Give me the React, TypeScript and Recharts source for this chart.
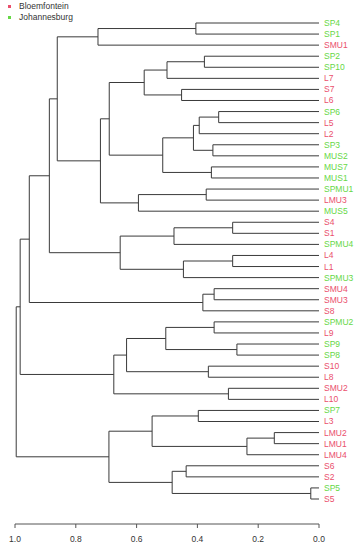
import React from 'react';
import { LineChart, Line, XAxis, YAxis } from 'recharts';

// Leaves, top to bottom
const leaves: string[] = [
  'SP4', 'SP1', 'SMU1', 'SP2', 'SP10', 'L7', 'S7', 'L6', 'SP6', 'L5', 'L2',
  'SP3', 'MUS2', 'MUS7', 'MUS1', 'SPMU1', 'LMU3', 'MUS5', 'S4', 'S1', 'SPMU4',
  'L4', 'L1', 'SPMU3', 'SMU4', 'SMU3', 'S8', 'SPMU2', 'L9', 'SP9', 'SP8', 'S10',
  'L8', 'SMU2', 'L10', 'SP7', 'L3', 'LMU2', 'LMU1', 'LMU4', 'S6', 'S2', 'SP5', 'S5',
];

// Group of each leaf: B = Bloemfontein, J = Johannesburg
const groups: string[] = [
  'J', 'J', 'B', 'J', 'J', 'B', 'B', 'B', 'J', 'B', 'B',
  'J', 'J', 'J', 'J', 'J', 'B', 'J', 'B', 'B', 'J',
  'B', 'B', 'J', 'B', 'B', 'B', 'J', 'B', 'J', 'J', 'B',
  'B', 'B', 'B', 'J', 'B', 'B', 'B', 'B', 'B', 'B', 'J', 'B',
];

// Merges: [left, right, height]; '#k' refers to merge k
const merges: [string, string, number][] = [
  ['SP4', 'SP1', 0.405],
  ['#0', 'SMU1', 0.727],
  ['SP2', 'SP10', 0.377],
  ['#2', 'L7', 0.5],
  ['S7', 'L6', 0.452],
  ['#3', '#4', 0.575],
  ['SP6', 'L5', 0.33],
  ['#6', 'L2', 0.394],
  ['SP3', 'MUS2', 0.349],
  ['#7', '#8', 0.413],
  ['MUS7', 'MUS1', 0.354],
  ['#9', '#10', 0.514],
  ['#5', '#11', 0.69],
  ['SPMU1', 'LMU3', 0.371],
  ['#13', 'MUS5', 0.594],
  ['#12', '#14', 0.719],
  ['#1', '#15', 0.861],
  ['S4', 'S1', 0.284],
  ['#17', 'SPMU4', 0.477],
  ['L4', 'L1', 0.284],
  ['#19', 'SPMU3', 0.446],
  ['#18', '#20', 0.654],
  ['#16', '#21', 0.887],
  ['SMU4', 'SMU3', 0.345],
  ['#23', 'S8', 0.382],
  ['#22', '#24', 0.953],
  ['SPMU2', 'L9', 0.345],
  ['SP9', 'SP8', 0.27],
  ['#26', '#27', 0.504],
  ['S10', 'L8', 0.364],
  ['#28', '#29', 0.633],
  ['SMU2', 'L10', 0.298],
  ['#30', '#31', 0.675],
  ['#25', '#32', 0.983],
  ['SP7', 'L3', 0.397],
  ['LMU2', 'LMU1', 0.147],
  ['#35', 'LMU4', 0.237],
  ['#34', '#36', 0.549],
  ['S6', 'S2', 0.437],
  ['SP5', 'S5', 0.027],
  ['#38', '#39', 0.483],
  ['#37', '#40', 0.691],
  ['#33', '#41', 0.996],
];

const xTicks: number[] = [0, 0.2, 0.4, 0.6, 0.8, 1.0];
const legendKeys: string[] = ['B', 'J'];
const legendNames: Record<string, string> = { B: 'Bloemfontein', J: 'Johannesburg' };
const groupColors: Record<string, string> = { B: '#EA4F6C', J: '#66D846' };

type Pt = { h: number; y: number };

const nodePos: Pt[] = [];
const resolve = (ref: string): Pt => {
  if (ref.startsWith('#')) return nodePos[parseInt(ref.slice(1), 10)];
  return { h: 0, y: leaves.indexOf(ref) };
};
const segments: Pt[][] = merges.map(([a, b, h]) => {
  const pa = resolve(a);
  const pb = resolve(b);
  nodePos.push({ h, y: (pa.y + pb.y) / 2 });
  return [
    { h: pa.h, y: pa.y },
    { h, y: pa.y },
    { h, y: pb.y },
    { h: pb.h, y: pb.y },
  ];
});

const leafTicks = leaves.map((_, i) => i);
const FONT = '"Liberation Sans", Arial, sans-serif';

const LeafTick = (props: any) => {
  const { x, y, payload } = props;
  const i = payload.value as number;
  return (
    <text x={x} y={y} dy="0.35em" textAnchor="start" fontSize={8.5} fontFamily={FONT} fill={groupColors[groups[i]]}>
      {leaves[i]}
    </text>
  );
};

export default function App() {
  return (
    <div style={{ position: 'absolute', left: 0, top: 0, width: 360, height: 550, background: '#fff' }}>
      <LineChart width={360} height={550} margin={{ top: 23, right: 0, bottom: 0, left: 15 }}>
        <XAxis
          type="number"
          dataKey="h"
          domain={[0, 1]}
          reversed
          ticks={xTicks}
          interval={0}
          height={26}
          tickSize={4}
          tickMargin={8}
          tickFormatter={(v: number) => v.toFixed(1)}
          stroke="#555"
          tick={{ fontSize: 8.5, fill: '#333', fontFamily: FONT }}
          allowDuplicatedCategory={false}
        />
        <YAxis
          type="number"
          orientation="right"
          domain={[0, leaves.length - 1]}
          reversed
          ticks={leafTicks}
          interval={0}
          width={41}
          axisLine={false}
          tickLine={false}
          tickSize={3}
          tickMargin={2}
          padding={{ top: 0, bottom: 25 }}
          tick={<LeafTick />}
        />
        {segments.map((seg, k) => (
          <Line
            key={k}
            data={seg}
            dataKey="y"
            stroke="#3a3a3a"
            strokeWidth={1}
            dot={false}
            activeDot={false}
            isAnimationActive={false}
            type="linear"
          />
        ))}
      </LineChart>
      {legendKeys.map((g, i) => (
        <div key={g} style={{ position: 'absolute', left: 0, top: 1 + i * 10.5, height: 11, fontFamily: FONT, fontSize: 8.5, color: '#333', lineHeight: '11px', whiteSpace: 'nowrap' }}>
          <span style={{ position: 'absolute', left: 8, top: 4, width: 3, height: 3, background: groupColors[g] }} />
          <span style={{ position: 'absolute', left: 19, top: 0 }}>{legendNames[g]}</span>
        </div>
      ))}
    </div>
  );
}
